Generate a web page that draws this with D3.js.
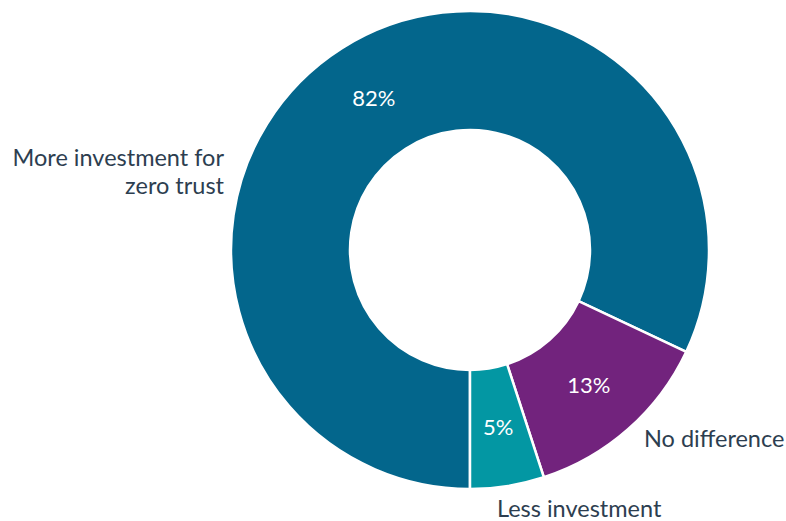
<!DOCTYPE html>
<html>
<head>
<meta charset="utf-8">
<script src="https://cdn.jsdelivr.net/npm/d3@7"></script>
<style>
  html, body { margin: 0; padding: 0; background: #ffffff; }
  svg { display: block; }
  text { font-family: Lato, "Open Sans", sans-serif; }
</style>
</head>
<body>
<svg id="chart" width="786" height="521"></svg>
<script>
// Survey answers: how zero trust affects security investment
const categories = ["More investment for zero trust", "No difference", "Less investment"];
const values = [82, 13, 5];
const colors = ["#03668c", "#72237d", "#0397a3"];
const labelLines = [["More investment for", "zero trust"], ["No difference"], ["Less investment"]];

const width = 786, height = 521;
const cx = 470, cy = 250;
const outerR = 239, innerR = 120;

const svg = d3.select("#chart");
const g = svg.append("g").attr("transform", `translate(${cx},${cy})`);

const pie = d3.pie()
  .sort(null)
  .value(d => d)
  .startAngle(Math.PI)
  .endAngle(3 * Math.PI);

const arcs = pie(values);
const arc = d3.arc().innerRadius(innerR).outerRadius(outerR);

g.selectAll("path.slice")
  .data(arcs)
  .join("path")
  .attr("class", "slice")
  .attr("d", arc)
  .attr("fill", (d, i) => colors[i])
  .attr("stroke", "#ffffff")
  .attr("stroke-width", 2.5)
  .attr("stroke-linejoin", "miter");

// value labels at the middle of each ring segment
g.selectAll("text.value")
  .data(arcs)
  .join("text")
  .attr("class", "value")
  .attr("x", d => arc.centroid(d)[0])
  .attr("y", d => arc.centroid(d)[1])
  .attr("dy", "0.36em")
  .attr("text-anchor", "middle")
  .attr("fill", "#ffffff")
  .attr("font-size", 22)
  .text(d => d.data + "%");

// category labels outside the ring
const outside = [
  { dx: -246, dy: -84, anchor: "end" },
  { dx: 174, dy: 197, anchor: "start" },
  { dx: 27, dy: 267, anchor: "start" }
];
const lineH = 28;
g.selectAll("text.cat")
  .data(arcs)
  .join("text")
  .attr("class", "cat")
  .attr("text-anchor", (d, i) => outside[i].anchor)
  .attr("fill", "#2d3e50")
  .attr("font-size", 23.5)
  .each(function (d, i) {
    const t = d3.select(this);
    labelLines[i].forEach((line, k) => {
      t.append("tspan")
        .attr("x", outside[i].dx)
        .attr("y", outside[i].dy + k * lineH)
        .text(line);
    });
  });
</script>
</body>
</html>
